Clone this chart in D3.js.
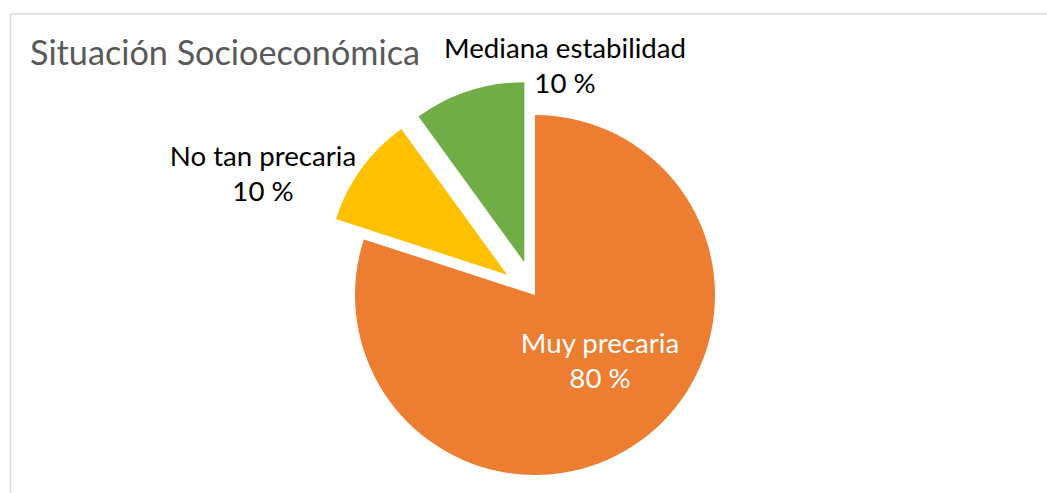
<!DOCTYPE html>
<html>
<head>
<meta charset="utf-8">
<script src="https://cdn.jsdelivr.net/npm/d3@7"></script>
<style>
  body { margin: 0; background: #fff; }
  svg { display: block; }
</style>
</head>
<body>
<div id="chart"></div>
<script>
// Data
const categories = ["Muy precaria", "No tan precaria", "Mediana estabilidad"];
const values = [80, 10, 10];
const valueLabels = ["80 %", "10 %", "10 %"];
const colors = ["#ED7D31", "#FFC000", "#70AD47"];
const exploded = [0, 1, 1];

const W = 1047, H = 493;
const cx = 535, cy = 295, r = 180;
const explode = 34.5;

const svg = d3.select("#chart")
    .append("svg")
    .attr("width", W)
    .attr("height", H);

// chart frame
svg.append("rect")
    .attr("x", 10.5)
    .attr("y", 14)
    .attr("width", W + 10)
    .attr("height", H + 10)
    .attr("fill", "#fff")
    .attr("stroke", "#d9d9d9")
    .attr("stroke-width", 1.5);

const font = "Lato, 'Open Sans', sans-serif";

// Title
const title = svg.append("text")
    .attr("x", 30)
    .attr("y", 65)
    .attr("fill", "#595959")
    .style("font-family", font)
    .style("font-size", "100px")
    .text("Situación Socioeconómica");
// fit title width to ~390px
const tw = title.node().getComputedTextLength();
title.style("font-size", (100 * 390 / tw) + "px");

const pie = d3.pie().sort(null).value(d => d)(values);
const arc = d3.arc().innerRadius(0).outerRadius(r);

const g = svg.append("g").attr("transform", `translate(${cx},${cy})`);

g.selectAll("path")
    .data(pie)
    .join("path")
    .attr("d", arc)
    .attr("fill", (d, i) => colors[i])
    .attr("transform", (d, i) => {
        const mid = (d.startAngle + d.endAngle) / 2;
        const o = exploded[i] * explode;
        return `translate(${o * Math.sin(mid)},${-o * Math.cos(mid)})`;
    });

// Labels: [x center, first baseline] relative to the chart
const labelPos = [[600, 353], [263, 166], [565, 58]];
const labelFill = ["#fff", "#000", "#000"];

// measure label font size from the widest label
const probe = svg.append("text")
    .style("font-family", font)
    .style("font-size", "100px")
    .text("Mediana estabilidad");
const lw = probe.node().getComputedTextLength();
probe.remove();
const labelSize = 100 * 242 / lw;

categories.forEach((c, i) => {
    const t = svg.append("text")
        .attr("text-anchor", "middle")
        .attr("fill", labelFill[i])
        .style("font-family", font)
        .style("font-size", labelSize + "px");
    t.append("tspan")
        .attr("x", labelPos[i][0])
        .attr("y", labelPos[i][1])
        .text(c);
    t.append("tspan")
        .attr("x", labelPos[i][0])
        .attr("y", labelPos[i][1] + 35)
        .text(valueLabels[i]);
});
</script>
</body>
</html>
